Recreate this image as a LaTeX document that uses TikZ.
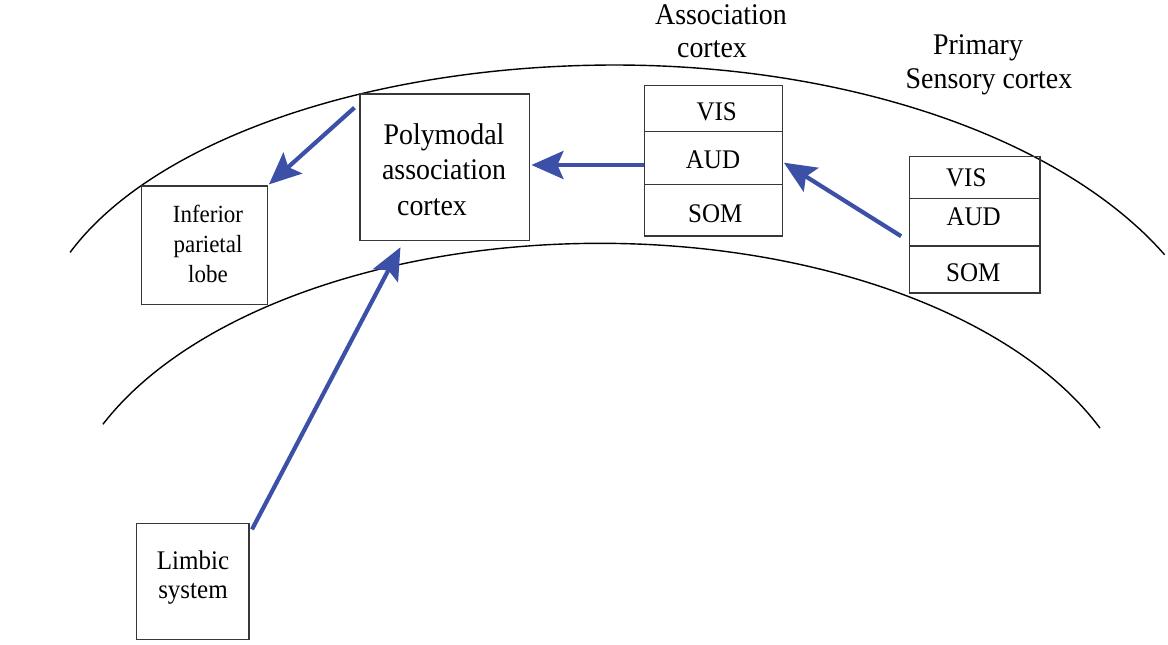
\documentclass[tikz,border=0pt]{standalone}
\usepackage{fontspec}
\setmainfont[FakeStretch=0.93]{Liberation Serif}
\usetikzlibrary{arrows.meta,calc}
\definecolor{flowblue}{RGB}{60,80,168}
\definecolor{edge}{RGB}{55,55,55}
\begin{document}
\begin{tikzpicture}[x=1pt,y=-1pt,
  box/.style={draw=edge, line width=1.2pt, inner sep=0pt},
  celltext/.style={anchor=base, inner sep=0pt, font=\fontsize{26.9}{30}\selectfont},
  layer/.style={draw=black, line width=1.4pt},
  flow/.style={draw=flowblue, line width=4.2pt,
    -{Stealth[length=32pt, width=28pt, inset=6pt]}},
  heading/.style={align=center, inner sep=0pt, font=\fontsize{30}{33.3}\selectfont}
]
\useasboundingbox (0,0) rectangle (1168,645);

% cortical layers: outer surface (two elliptic halves meeting at the crest)
\draw[layer] plot[domain=69.97:0, samples=90]
    ({615-580*sin(\x)}, {65+285*(1-cos(\x))})
  -- plot[domain=0:64.3, samples=90]
    ({615+610*sin(\x)}, {65+335*(1-cos(\x))});
% inner boundary
\draw[layer] plot[domain=22.2:157, samples=160]
    ({600+540*cos(\x)}, {540.3-297*sin(\x)});

% headings
\node[heading] (assochead) at (721,31.4) {Association\\cortex\hspace*{18pt}};
\node[heading] (primhead) at (989,64.7) {Primary\hspace*{22pt}\\Sensory cortex};

% single boxes
\node[box, minimum width=169.3, minimum height=146.7] (poly) at (444.7,167.3) {};
\node[align=center, inner sep=0pt, font=\fontsize{30}{35.75}\selectfont]
  (polytxt) at (444,169.5) {Polymodal\\association\\cortex\hspace*{24pt}};
\node[box, minimum width=125.6, minimum height=118.3] (inf) at (204.5,245.2) {};
\node[align=center, inner sep=0pt, font=\fontsize{24.7}{30}\selectfont]
  (inftxt) at (208,243.9) {Inferior\\parietal\\lobe};
\node[box, minimum width=112.4, minimum height=116] (limbic) at (192.8,581.3) {};
\node[align=center, inner sep=0pt, font=\fontsize{26.9}{29}\selectfont]
  (limbictxt) at (193,577.2) {Limbic\\system};

% association cortex column
\node[box, minimum width=138, minimum height=46] (vis1) at (713.3,108.7) {};
\node[box, minimum width=138, minimum height=52.6] (aud1) at (713.3,158) {};
\node[box, minimum width=138, minimum height=51.7] (som1) at (713.3,210.2) {};
\node[celltext] (vis1txt) at (716.7,120.7) {VIS};
\node[celltext] (aud1txt) at (713,168.3) {AUD};
\node[celltext] (som1txt) at (715.3,222.7) {SOM};

% primary sensory cortex column
\node[box, minimum width=130.7, minimum height=41.6] (vis2) at (974.7,177.5) {};
\node[box, minimum width=130.7, minimum height=47.7] (aud2) at (974.7,222.2) {};
\node[box, minimum width=130.7, minimum height=47] (som2) at (974.7,269.5) {};
\node[celltext] (vis2txt) at (966.3,186.7) {VIS};
\node[celltext] (aud2txt) at (973.7,225) {AUD};
\node[celltext] (som2txt) at (973.3,281.7) {SOM};

% pathways
\coordinate (polyout) at ($(poly.north west)+(-5,14.3)$);
\coordinate (infin) at ($(inf.north east)+(1,-1)$);
\coordinate (polyin2) at ($(poly.east)+(1.5,-2.3)$);
\coordinate (primout) at ($(aud2.west)+(-7.6,14)$);
\coordinate (associn) at ($(aud1.east)+(1,4.7)$);
\coordinate (limbout) at ($(limbic.north east)+(2.4,6.7)$);
\coordinate (polyin) at ($(poly.south west)+(41,6)$);

\draw[flow] (polyout) -- (infin);
\draw[flow] (aud1.west |- polyin2) -- (polyin2);
\draw[flow] (primout) -- (associn);
\draw[flow] (limbout) -- (polyin);
\end{tikzpicture}
\end{document}
